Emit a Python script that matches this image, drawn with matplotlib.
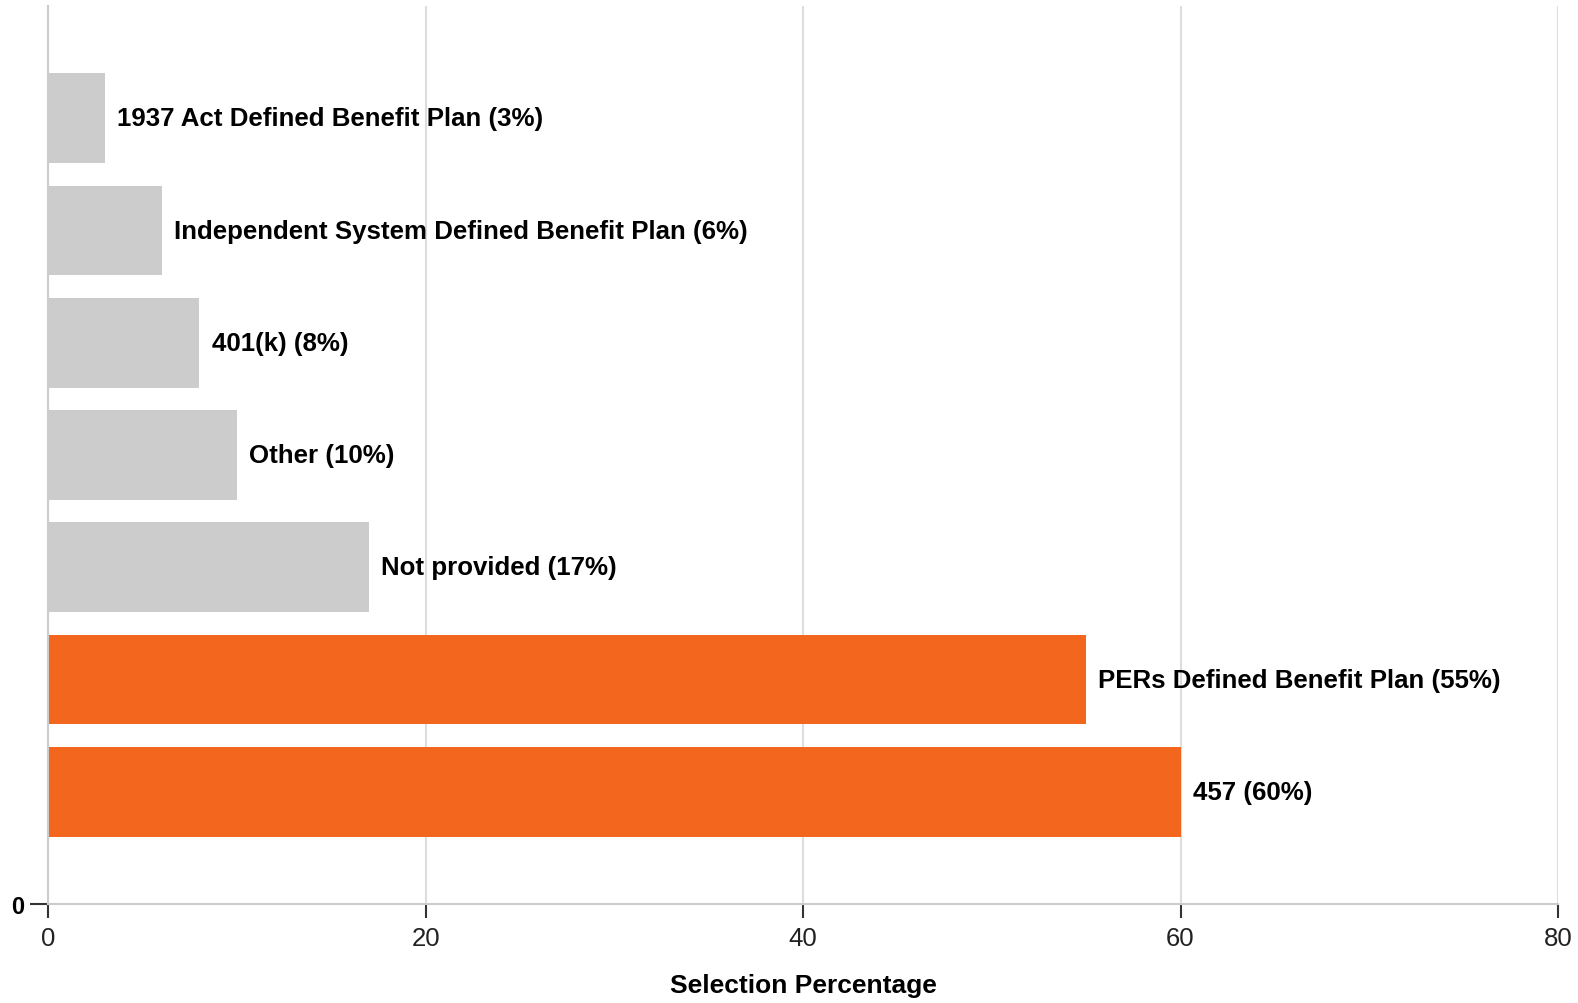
import matplotlib
matplotlib.use("Agg")
import matplotlib.pyplot as plt

categories = [
    "457",
    "PERs Defined Benefit Plan",
    "Not provided",
    "Other",
    "401(k)",
    "Independent System Defined Benefit Plan",
    "1937 Act Defined Benefit Plan",
]
values = [60, 55, 17, 10, 8, 6, 3]
highlight = [True, True, False, False, False, False, False]
x_ticks = [0, 20, 40, 60, 80]

ORANGE = "#F2661E"
GRAY = "#CCCCCC"

plt.rcParams["font.family"] = ["Liberation Sans", "DejaVu Sans"]

fig = plt.figure(figsize=(15.78, 10.04), dpi=100)
ax = fig.add_axes([0.0306, 0.0985, 0.9567, 0.8945])

positions = list(range(len(categories)))
colors = [ORANGE if h else GRAY for h in highlight]
ax.barh(positions, values, height=0.8, color=colors, zorder=2)

for y, v, c in zip(positions, values, categories):
    ax.text(v + 0.65, y, f"{c} ({v}%)", va="center", ha="left",
            fontsize=18.6, fontweight="bold", color="#000000", zorder=3)

ax.set_xlim(0, 80)
ax.set_ylim(-1, 7)
ax.set_xticks(x_ticks)
ax.set_xticklabels([str(t) for t in x_ticks], fontsize=18.5, color="#222222")
ax.set_yticks([-1])
ax.set_yticklabels(["0"], fontsize=17, fontweight="bold", color="#000000")

ax.grid(axis="x", color="#DDDDDD", linewidth=1.5, zorder=0)
ax.set_axisbelow(True)

for side in ("top", "right"):
    ax.spines[side].set_visible(False)
for side in ("left", "bottom"):
    ax.spines[side].set_color("#CCCCCC")
    ax.spines[side].set_linewidth(1.5)

ax.tick_params(axis="x", length=10, width=1.5, color="#333333", pad=6)
ax.tick_params(axis="y", length=13, width=1.5, color="#333333", pad=4)

ax.set_xlabel("Selection Percentage", fontsize=19, fontweight="bold",
              color="#000000", labelpad=16)

fig.savefig("out.png", dpi=100, facecolor="white")
